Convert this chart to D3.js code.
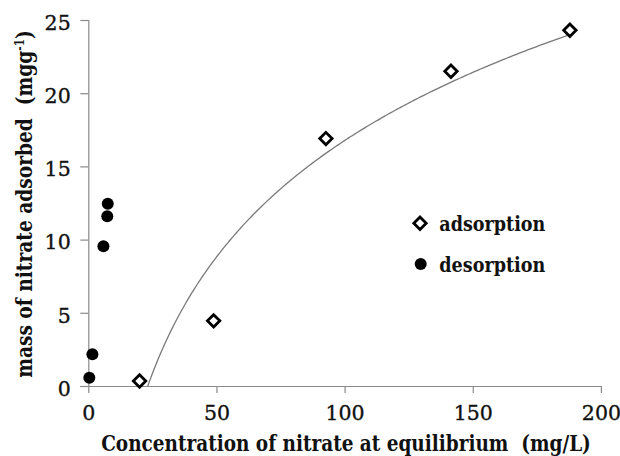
<!DOCTYPE html>
<html>
<head>
<meta charset="utf-8">
<script src="https://cdn.jsdelivr.net/npm/d3@7"></script>
<style>
  html, body { margin: 0; padding: 0; background: #fff; }
  svg { display: block; }
</style>
</head>
<body>
<svg id="chart" width="620" height="456"></svg>
<script>
// ---- data ----
const adsorptionX = [20.0, 48.9, 92.7, 141.5, 187.9];
const adsorptionY = [0.34, 4.45, 16.9, 21.5, 24.3];
const desorptionX = [0.4, 1.6, 5.9, 7.4, 7.6];
const desorptionY = [0.57, 2.17, 9.54, 11.6, 12.45];
const xTicks = [0, 50, 100, 150, 200];
const yTicks = [0, 5, 10, 15, 20, 25];
const legendLabels = ["adsorption", "desorption"];
const xTitle = "Concentration of nitrate at equilibrium  (mg/L)";
const yTitle = "mass of nitrate adsorbed  (mgg";

const svg = d3.select("#chart");
const x = d3.scaleLinear().domain([0, 200]).range([88.3, 600.9]);
const y = d3.scaleLinear().domain([0, 25]).range([386, 20]);
const axisColor = "#8a8a8a";
const serif = "'DejaVu Serif', serif";

// axes
const xAxis = svg.append("g").attr("transform", "translate(0,386)")
  .call(d3.axisBottom(x).tickValues(xTicks).tickSize(7).tickFormat(d3.format("d")));
const yAxis = svg.append("g").attr("transform", "translate(88.3,0)")
  .call(d3.axisLeft(y).tickValues(yTicks).tickSize(8).tickFormat(d3.format("d")));
[xAxis, yAxis].forEach(g => {
  g.select(".domain").attr("stroke", axisColor).attr("stroke-width", 1.2);
  g.selectAll(".tick line").attr("stroke", axisColor).attr("stroke-width", 1.2);
  g.selectAll(".tick text").attr("font-family", serif).attr("font-size", 20.5)
    .attr("fill", "#111").attr("stroke", "#111").attr("stroke-width", 0.35);
});
xAxis.selectAll(".tick text").attr("y", 0).attr("dy", 0).attr("transform", "translate(0,33.5)");
yAxis.selectAll(".tick text").attr("x", -17.6).attr("dy", 9.3);
xAxis.select(".domain").attr("d", `M${x(0) - 8},0.5H${x(200)}`);
yAxis.select(".domain").attr("d", `M0.5,${y(25)}V${y(0)}`);

// logarithmic trendline fitted to adsorption data (least squares, y = a ln x + b)
const lx = adsorptionX.map(Math.log);
const mlx = d3.mean(lx), my = d3.mean(adsorptionY);
const a = d3.sum(lx.map((v, i) => (v - mlx) * (adsorptionY[i] - my))) / d3.sum(lx.map(v => (v - mlx) ** 2));
const b = my - a * mlx;
const x0 = Math.exp(-b / a);
const xs = d3.range(0, 201).map(i => x0 + (d3.max(adsorptionX) - x0) * i / 200);
svg.append("path")
  .attr("d", d3.line().x(d => x(d)).y(d => y(a * Math.log(d) + b))(xs))
  .attr("fill", "none").attr("stroke", "#7a7a7a").attr("stroke-width", 1.3);

// markers
const diamond = h => `M0,${-h}L${h},0L0,${h}L${-h},0Z`;
svg.append("g").selectAll("path").data(adsorptionX).join("path")
  .attr("transform", (d, i) => `translate(${x(d)},${y(adsorptionY[i])})`)
  .attr("d", diamond(6.2)).attr("fill", "#fff").attr("stroke", "#000").attr("stroke-width", 2.8);
svg.append("g").selectAll("circle").data(desorptionX).join("circle")
  .attr("cx", d => x(d)).attr("cy", (d, i) => y(desorptionY[i])).attr("r", 6).attr("fill", "#000");

// legend
const leg = svg.append("g");
leg.append("path").attr("transform", "translate(420,223.3)").attr("d", diamond(6.2))
  .attr("fill", "#fff").attr("stroke", "#000").attr("stroke-width", 2.8);
leg.append("circle").attr("cx", 420.7).attr("cy", 264).attr("r", 6).attr("fill", "#000");
legendLabels.forEach((t, i) => {
  leg.append("text").attr("x", 439.3).attr("y", i === 0 ? 230.5 : 271.5)
    .attr("font-family", serif).attr("font-weight", "bold").attr("font-size", 21)
    .attr("textLength", 106).attr("lengthAdjust", "spacingAndGlyphs")
    .attr("fill", "#111").text(t);
});

// helper: horizontal compression factor to reach a target width
function fit(textSel, target) {
  const w = textSel.node().getComputedTextLength();
  return target / w;
}

// x title
const xt = svg.append("g");
const xtText = xt.append("text").attr("text-anchor", "middle")
  .attr("font-family", serif).attr("font-weight", "bold").attr("font-size", 23).attr("fill", "#111")
  .attr("xml:space", "preserve").text(xTitle);
xt.attr("transform", `translate(346,450.5) scale(${fit(xtText, 490)},1)`);

// y title
const yt = svg.append("g");
const ytText = yt.append("text").attr("text-anchor", "middle")
  .attr("font-family", serif).attr("font-weight", "bold").attr("font-size", 23).attr("fill", "#111")
  .attr("xml:space", "preserve");
ytText.append("tspan").text(yTitle);
ytText.append("tspan").attr("dy", -8).attr("font-size", 13).text("-1");
ytText.append("tspan").attr("dy", 8).text(")");
yt.attr("transform", `translate(31.7,204) rotate(-90) scale(${fit(ytText, 348)},1)`);
</script>
</body>
</html>
